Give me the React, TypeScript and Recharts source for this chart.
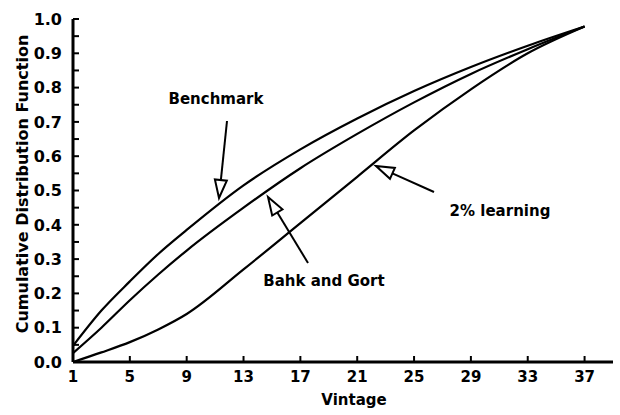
import { LineChart, Line, XAxis, YAxis } from 'recharts'

// vintage years and the three CDF curves
const vintages = [1, 3, 5, 7, 9, 13, 17, 21, 25, 29, 33, 37]
const benchmark = [0.047, 0.15, 0.235, 0.315, 0.385, 0.515, 0.62, 0.71, 0.79, 0.86, 0.922, 0.978]
const bahkGort = [0.026, 0.1, 0.18, 0.255, 0.325, 0.45, 0.565, 0.665, 0.757, 0.84, 0.912, 0.978]
const learning = [0, 0.028, 0.058, 0.095, 0.14, 0.27, 0.405, 0.54, 0.675, 0.795, 0.9, 0.978]

const xTicks = [1, 5, 9, 13, 17, 21, 25, 29, 33, 37]
const yTicks = [0, 0.05, 0.1, 0.15, 0.2, 0.25, 0.3, 0.35, 0.4, 0.45, 0.5, 0.55, 0.6, 0.65, 0.7, 0.75, 0.8, 0.85, 0.9, 0.95, 1]

const data = vintages.map((v, i) => ({
  vintage: v,
  benchmark: benchmark[i],
  bahkGort: bahkGort[i],
  learning: learning[i],
}))

const W = 620
const H = 415
const PLOT_LEFT = 73
const PLOT_BOTTOM = 362
const FONT = '"DejaVu Sans", sans-serif'

function YTick(props: any) {
  const { y, payload } = props
  const v = payload.value as number
  const major = Math.round(v * 100) % 10 === 0
  return (
    <g>
      <line x1={PLOT_LEFT} x2={PLOT_LEFT + 6} y1={y} y2={y} stroke="#000" strokeWidth={2} />
      {major && (
        <text x={PLOT_LEFT - 11} y={y} dy="0.36em" textAnchor="end" fontFamily={FONT} fontWeight={700} fontSize={16} fill="#000">
          {v.toFixed(1)}
        </text>
      )}
    </g>
  )
}

function XTick(props: any) {
  const { x, payload } = props
  return (
    <g>
      <line x1={x} x2={x} y1={PLOT_BOTTOM} y2={PLOT_BOTTOM - 6} stroke="#000" strokeWidth={2} />
      <text x={x} y={PLOT_BOTTOM + 20} textAnchor="middle" fontFamily={FONT} fontWeight={700} fontSize={15} fill="#000">
        {payload.value}
      </text>
    </g>
  )
}

function Arrow({ x1, y1, x2, y2 }: { x1: number; y1: number; x2: number; y2: number }) {
  // shaft from (x1,y1) to tip (x2,y2) with an open triangular head
  const dx = x2 - x1
  const dy = y2 - y1
  const len = Math.hypot(dx, dy)
  const ux = dx / len
  const uy = dy / len
  const headLen = 18
  const half = 6
  const bx = x2 - ux * headLen
  const by = y2 - uy * headLen
  const px = -uy * half
  const py = ux * half
  return (
    <g stroke="#000" strokeWidth={2} fill="#fff">
      <line x1={x1} y1={y1} x2={bx} y2={by} />
      <polygon points={`${x2},${y2} ${bx + px},${by + py} ${bx - px},${by - py}`} strokeLinejoin="miter" />
    </g>
  )
}

export default function App() {
  const textStyle = { fontFamily: FONT, fontWeight: 700, fontSize: 15, fill: '#000' }
  return (
    <div style={{ position: 'absolute', left: 0, top: 0, width: W, height: H, background: '#fff' }}>
      <LineChart width={W} height={H} data={data} margin={{ top: 19, right: 7, bottom: 23, left: 0 }}>
        <XAxis
          dataKey="vintage"
          type="number"
          domain={[1, 39]}
          ticks={xTicks}
          interval={0}
          height={30}
          axisLine={{ stroke: '#000', strokeWidth: 3 }}
          tickLine={false}
          tick={<XTick />}
        />
        <YAxis
          type="number"
          domain={[0, 1]}
          ticks={yTicks}
          interval={0}
          width={PLOT_LEFT}
          axisLine={{ stroke: '#000', strokeWidth: 3 }}
          tickLine={false}
          tick={<YTick />}
        />
        <Line type="monotone" dataKey="benchmark" stroke="#000" strokeWidth={2.2} dot={false} isAnimationActive={false} />
        <Line type="monotone" dataKey="bahkGort" stroke="#000" strokeWidth={2.2} dot={false} isAnimationActive={false} />
        <Line type="monotone" dataKey="learning" stroke="#000" strokeWidth={2.2} dot={false} isAnimationActive={false} />
      </LineChart>
      <svg width={W} height={H} style={{ position: 'absolute', left: 0, top: 0, pointerEvents: 'none' }}>
        <text x={22} y={184} transform="rotate(-90 22 184)" textAnchor="middle" dy="0.35em" style={{ ...textStyle, fontSize: 16 }}>
          Cumulative Distribution Function
        </text>
        <text x={354} y={400} textAnchor="middle" dy="0.35em" style={textStyle}>
          Vintage
        </text>
        <text x={216} y={99} textAnchor="middle" dy="0.35em" style={textStyle}>
          Benchmark
        </text>
        <text x={324} y={281} textAnchor="middle" dy="0.35em" style={textStyle}>
          Bahk and Gort
        </text>
        <text x={500} y={211} textAnchor="middle" dy="0.35em" style={textStyle}>
          2% learning
        </text>
        <Arrow x1={227} y1={121} x2={219} y2={198} />
        <Arrow x1={308} y1={263} x2={268} y2={197} />
        <Arrow x1={434} y1={192} x2={376} y2={166} />
      </svg>
    </div>
  )
}
